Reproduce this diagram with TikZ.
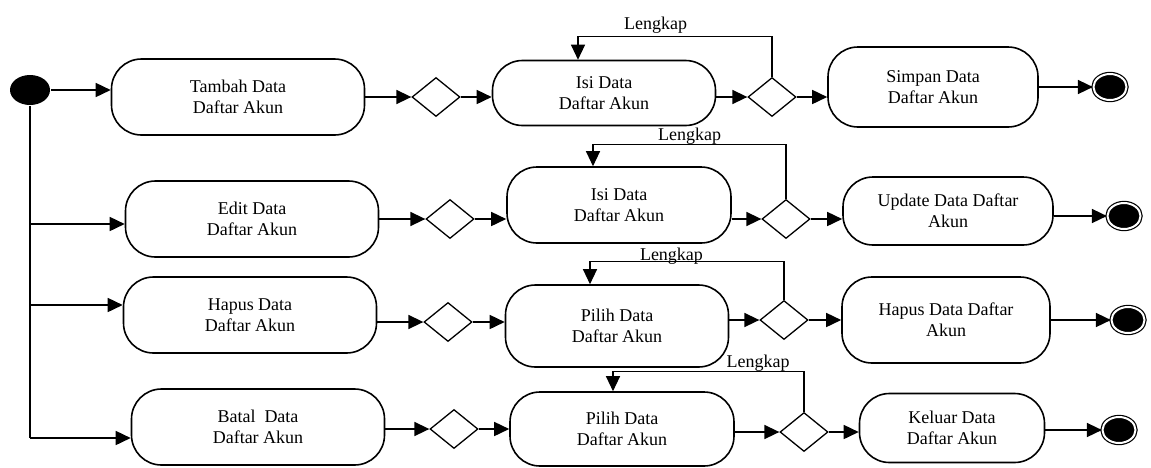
\documentclass[tikz,border=0pt]{standalone}
\usepackage{fontspec}
\setmainfont{Liberation Serif}
\usetikzlibrary{arrows.meta}
\usetikzlibrary{shapes.geometric}
\usetikzlibrary{positioning}

\begin{document}
\begin{tikzpicture}[->,>={Triangle[length=15pt,width=14pt]},line width=1.6pt,x=1pt,y=-1pt,
	font=\fontsize{18}{21}\selectfont]
	\tikzstyle{activity}=[draw=black,rectangle,rounded corners=30pt,align=center,inner sep=0pt,minimum width=253pt,minimum height=76pt]
	\tikzstyle{decision}=[draw=black,diamond,inner sep=0pt,minimum width=48pt,minimum height=39pt,line width=1.3pt]
	\tikzstyle{startdot}=[fill=black,ellipse,inner sep=0pt,minimum width=40pt,minimum height=30pt]
	\tikzstyle{enddot}=[draw=black,fill=black,ellipse,double=white,double distance=2pt,line width=1.2pt,inner sep=0pt,minimum width=33pt,minimum height=26pt]
	\tikzstyle{backflow}=[line width=1.2pt]
	\useasboundingbox (0,0) rectangle (1151,467);
	\node[startdot] (start) at (30,90) {};
	\coordinate (b2) at (30,224);
	\coordinate (b3) at (30,305);
	\coordinate (b4) at (30,438);
	% tambah
	\node[activity] (A1) at (238,97) {Tambah Data\\Daftar Akun};
	\node[decision] (D1)[right of=A1,node distance=198pt] {};
	\node[activity,minimum width=223pt,minimum height=65pt] (B1)[right of=D1,node distance=168pt,yshift=4pt] {Isi Data\\Daftar Akun};
	\node[decision] (D2)[right of=D1,node distance=336pt] {};
	\node[activity,minimum width=210pt,minimum height=80pt] (C1)[right of=D2,node distance=161pt,yshift=10pt] {Simpan Data\\Daftar Akun};
	\node[enddot] (E1)[right of=C1,node distance=177pt] {};
	% edit
	\node[activity] (A2) at (252,219) {Edit Data\\Daftar Akun};
	\node[decision] (D3)[right of=A2,node distance=198pt] {};
	\node[activity,minimum width=224pt] (B2)[right of=D3,node distance=169pt,yshift=14pt] {Isi Data\\Daftar Akun};
	\node[decision] (D4)[right of=D3,node distance=336pt] {};
	\node[activity,minimum width=210pt,minimum height=68pt] (C2)[right of=D4,node distance=162pt,yshift=8pt] {Update Data Daftar\\Akun};
	\node[enddot] (E2)[right of=C2,node distance=176pt,yshift=-5pt] {};
	% hapus
	\node[activity] (A3) at (250,315) {Hapus Data\\Daftar Akun};
	\node[decision] (D5)[right of=A3,node distance=198pt,yshift=-7pt] {};
	\node[activity,minimum width=223pt,minimum height=82pt] (B3)[right of=D5,node distance=169pt,yshift=-4pt] {Pilih Data\\Daftar Akun};
	\node[decision] (D6)[right of=D5,node distance=336pt,yshift=2pt] {};
	\node[activity,minimum width=208pt,minimum height=86pt] (C3)[right of=D6,node distance=162pt] {Hapus Data Daftar\\Akun};
	\node[enddot] (E3)[right of=C3,node distance=182pt] {};
	% batal
	\node[activity] (A4) at (258,427) {Batal~ Data\\Daftar Akun};
	\node[decision] (D7)[right of=A4,node distance=196pt,yshift=-2pt] {};
	\node[activity,minimum width=224pt,minimum height=74pt] (B4)[right of=D7,node distance=168pt] {Pilih Data\\Daftar Akun};
	\node[decision] (D8)[right of=D7,node distance=350pt,yshift=-3pt] {};
	\node[activity,minimum width=185pt,minimum height=69pt] (C4)[right of=D8,node distance=148pt,yshift=4pt] {Keluar Data\\Daftar Akun};
	\node[enddot] (E4)[right of=C4,node distance=167pt,yshift=-2pt] {};
	% percabangan awal
	\draw[-] (start) -- (b4);
	\path
	(start) edge (start -| A1.west)
	(b2) edge (b2 -| A2.west)
	(b3) edge (b3 -| A3.west)
	(b4) edge (b4 -| A4.west);
	\path
	(A1) edge (D1)
	(D1) edge (D1 -| B1.west)
	(D2 -| B1.east) edge (D2)
	(D2) edge (D2 -| C1.west)
	(C1) edge (E1)
	(A2) edge (D3)
	(D3) edge (D3 -| B2.west)
	(D4 -| B2.east) edge (D4)
	(D4) edge (D4 -| C2.west)
	(E2 -| C2.east) edge (E2)
	(D5 -| A3.east) edge (D5)
	(D5) edge (D5 -| B3.west)
	(D6 -| B3.east) edge (D6)
	(D6) edge (C3)
	(C3) edge (E3)
	(D7 -| A4.east) edge (D7)
	(D7) edge (B4)
	(D8 -| B4.east) edge (D8)
	(D8) edge (D8 -| C4.west)
	(E4 -| C4.east) edge (E4);
	% kembali jika lengkap
	\draw[backflow] (D2.north) -- ++(0,-40) -| node[pos=0.3,above] (L1) {Lengkap} ([xshift=-26pt]B1.north);
	\draw[backflow] (D4.north) -- ++(0,-54) -| node[pos=0.25,above,inner sep=0pt] (L2) {Lengkap} ([xshift=-26pt]B2.north);
	\draw[backflow] (D6.north) -- ++(0,-38) -| node[pos=0.29,above,inner sep=0pt,yshift=-3pt] (L3) {Lengkap} ([xshift=-27pt]B3.north);
	\draw[backflow] (D8.north) -- ++(0,-40) -| node[pos=0.12,above,inner sep=0pt] (L4) {Lengkap} ([xshift=-9pt]B4.north);
\end{tikzpicture}
\end{document}
